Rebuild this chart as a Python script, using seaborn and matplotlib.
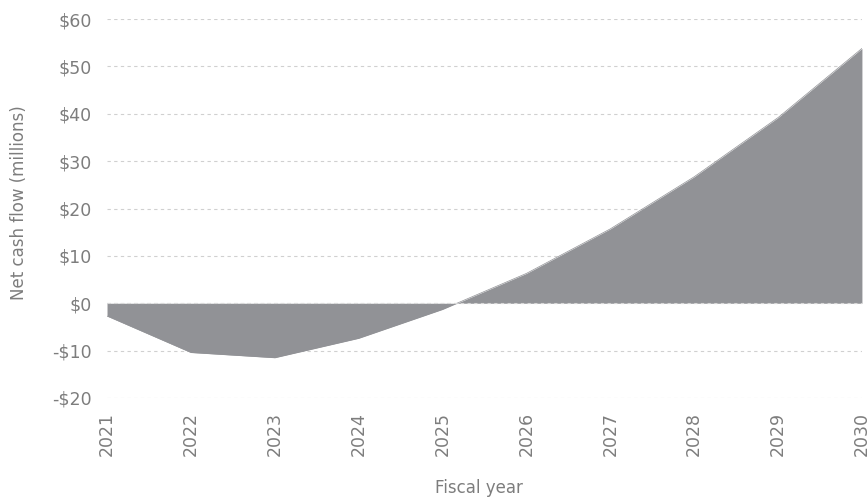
import matplotlib
matplotlib.use("Agg")
import matplotlib.pyplot as plt
import seaborn as sns
import pandas as pd

years = [2021, 2022, 2023, 2024, 2025, 2026, 2027, 2028, 2029, 2030]
net_cash = [-2.7, -10.4, -11.5, -7.4, -1.3, 6.3, 15.7, 26.7, 39.2, 53.8]
ytick_vals = [-20, -10, 0, 10, 20, 30, 40, 50, 60]
ytick_labels = ["-$20", "-$10", "$0", "$10", "$20", "$30", "$40", "$50", "$60"]

sns.set_theme(style="white")
plt.rcParams['font.family'] = ['DejaVu Sans']

df = pd.DataFrame({"year": years, "value": net_cash})

fig = plt.figure(figsize=(8.68, 5.01), dpi=100)
ax = fig.add_axes([0.1233, 0.2056, 0.8697, 0.7564])

text_color = "#7d7d7d"
fill_color = "#919296"

for v in ytick_vals:
    ax.axhline(v, color="#d0d0d0", lw=0.8, ls=(0, (3, 3)), zorder=0)

sns.lineplot(data=df, x="year", y="value", ax=ax, color=fill_color, lw=0.5, zorder=2)
ax.fill_between(df["year"], 0, df["value"], color=fill_color, lw=0, zorder=2)
ax.axhline(0, color="#d8d8d8", lw=0.8, ls=(0, (3, 3)), zorder=3)

ax.set_xlim(2021, 2030)
ax.set_ylim(-20, 60)
ax.set_xticks(years)
ax.set_xticklabels([str(y) for y in years], rotation=90, color=text_color, fontsize=12.5)
ax.set_yticks(ytick_vals)
ax.set_yticklabels(ytick_labels, color=text_color, fontsize=12.5)
ax.tick_params(axis="x", length=0, pad=10)
ax.tick_params(axis="y", length=0, pad=11)

for s in ax.spines.values():
    s.set_visible(False)

ax.set_xlabel("Fiscal year", color=text_color, fontsize=12)
ax.set_ylabel("Net cash flow (millions)", color=text_color, fontsize=12)
ax.xaxis.set_label_coords((479 - 107) / (0.8697 * 868), -(488 - 398) / (0.7564 * 501))
ax.yaxis.set_label_coords(-(107 - 18.5) / (0.8697 * 868), (398 - 203) / (0.7564 * 501))
ax.xaxis.label.set_va("center")
ax.yaxis.label.set_va("center")

fig.savefig("out.png", dpi=100)
